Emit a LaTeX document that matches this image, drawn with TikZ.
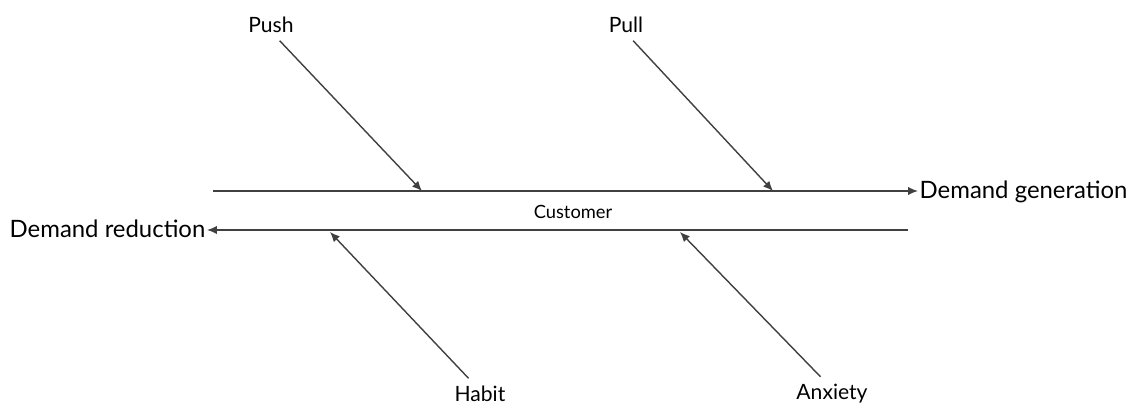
\documentclass[tikz,border=0pt]{standalone}
\usepackage{fontspec}
\setmainfont{Lato}
\usetikzlibrary{arrows.meta}
\usetikzlibrary{positioning}

\tikzset{
	cause/.style={font=\fontsize{15}{18}\selectfont, inner sep=1pt},
	effect/.style={font=\fontsize{17}{20}\selectfont, inner sep=1pt},
	spine/.style={draw=black!75, line width=1.1pt, -{Latex[length=7pt, width=6pt]}},
	bone/.style={draw=black!75, line width=1pt, shorten <=6pt, -{Latex[length=7pt, width=6pt]}}
}

\begin{document}
\begin{tikzpicture}[x=0.025cm, y=-0.025cm]
	\useasboundingbox (0,0) rectangle (1136,405);

	%Effects

	\node (gen) [effect, anchor=west] at (918,192) {Demand generation};
	\node (red) [effect, anchor=east] at (207,229) {Demand reduction};
	\node (customer) [font=\fontsize{13}{16}\selectfont] at (573,212) {Customer};

	\coordinate (topL) at (213,191);
	\coordinate (botR) at (908,230);

	\draw [spine] (topL) -- (gen.west |- topL);
	\draw [spine] (botR) -- (red.east |- botR);

	%Causes

	\node (push) [cause] at (271,25) {Push};
	\node (pull) [cause] at (626,25) {Pull};
	\node (habit) [cause] at (480,394) {Habit};
	\node (anxiety) [cause] at (832,394) {Anxiety};

	\coordinate (pushEnd) at (422,191);
	\coordinate (pullEnd) at (773,191);
	\coordinate (habitEnd) at (330,232);
	\coordinate (anxietyEnd) at (680,232);

	\draw [bone] ([xshift=2pt]push.south) -- (pushEnd);
	\draw [bone] ([xshift=1pt]pull.south) -- (pullEnd);
	\draw [bone] ([xshift=-4pt]habit.north) -- (habitEnd);
	\draw [bone] ([xshift=-4pt]anxiety.north) -- (anxietyEnd);

\end{tikzpicture}
\end{document}
